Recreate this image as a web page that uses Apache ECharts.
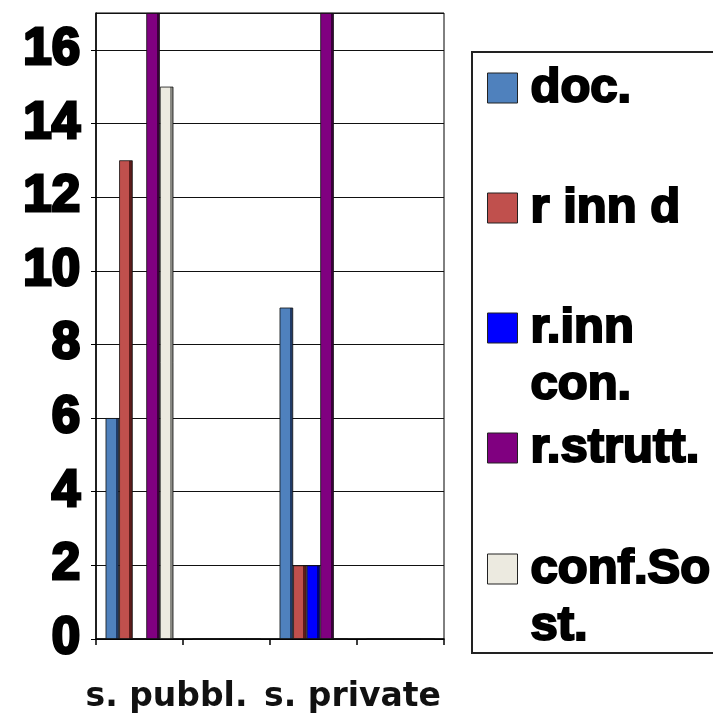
<!DOCTYPE html>
<html>
<head>
<meta charset="utf-8">
<script src="https://cdn.jsdelivr.net/npm/echarts@6/dist/echarts.min.js"></script>
<style>
html,body{margin:0;padding:0;background:#fff;}
#chart{width:713px;height:714px;}
</style>
</head>
<body>
<div id="chart"></div>
<script>
// ---- data ----
const categories = ['s. pubbl.', '', 's. private', ''];
const seriesNames = ['doc.', 'r inn d', 'r.inn con.', 'r.strutt.', 'conf.Sost.'];
const docValues      = [6, 0, 9, 0];
const rInnDValues    = [13, 0, 2, 0];
const rInnConValues  = [0, 0, 2, 0];
const rStruttValues  = [17, 0, 17, 0];
const confSostValues = [15, 0, 0, 0];
const legendLabels = ['doc.', 'r inn d', '\nr.inn\ncon.', 'r.strutt.', '\nconf.So\nst.'];

const faceColors = ['#4f81bd', '#c0504d', '#0000ff', '#800080', '#eceae0'];
const sideColors = ['#1f3a66', '#5c1c1b', '#000080', '#3a003a', '#8a8a84'];

function barColor(i) {
  return new echarts.graphic.LinearGradient(0, 0, 1, 0, [
    {offset: 0, color: faceColors[i]},
    {offset: 0.76, color: faceColors[i]},
    {offset: 0.76, color: sideColors[i]},
    {offset: 1, color: sideColors[i]}
  ]);
}

const allValues = [docValues, rInnDValues, rInnConValues, rStruttValues, confSostValues];

const chart = echarts.init(document.getElementById('chart'), null, {renderer: 'canvas'});

const legendTops = [59.5, 179.5, 242.5, 419.5, 483.5];
const legends = seriesNames.map((n, i) => ({
  data: [n],
  orient: 'vertical',
  left: 487,
  top: legendTops[i],
  padding: 0,
  itemWidth: 30,
  itemHeight: 30,
  selectedMode: false,
  icon: 'rect',
  itemStyle: {color: faceColors[i], borderColor: '#222', borderWidth: 1},
  formatter: () => legendLabels[i],
  textStyle: {
    fontFamily: 'Liberation Sans',
    fontWeight: 'bold',
    fontSize: 49,
    lineHeight: 57,
    color: '#000',
    textBorderColor: '#000',
    textBorderWidth: 2.2,
    padding: [0, 0, 0, 8]
  }
}));

const option = {
  backgroundColor: '#fff',
  animation: false,
  grid: {
    left: 96, right: 269, top: 13, bottom: 73,
    show: true, borderColor: '#000', borderWidth: 1, backgroundColor: 'transparent'
  },
  legend: legends,
  graphic: [{
    type: 'rect',
    shape: {x: 472, y: 52, width: 250, height: 601},
    style: {fill: 'none', stroke: '#222', lineWidth: 2},
    z: 10
  }],
  xAxis: {
    type: 'category',
    data: [
      {value: categories[0], textStyle: {padding: [0, 0, 0, 54]}},
      categories[1],
      {value: categories[2], textStyle: {padding: [0, 0, 0, 78]}},
      categories[3]
    ],
    axisLine: {lineStyle: {color: '#000', width: 1.5}},
    axisTick: {show: true, length: 6, lineStyle: {color: '#000', width: 1.5}},
    axisLabel: {
      interval: 0,
      margin: 42,
      fontFamily: 'DejaVu Sans',
      fontWeight: 'bold',
      fontSize: 33,
      color: '#111'
    },
    splitLine: {show: false}
  },
  yAxis: {
    type: 'value',
    min: 0, max: 17, interval: 2,
    axisLine: {show: true, lineStyle: {color: '#000', width: 1.5}},
    axisTick: {show: true, length: 5, lineStyle: {color: '#000'}},
    axisLabel: {
      showMaxLabel: false,
      margin: 16,
      fontFamily: 'Liberation Sans',
      fontWeight: 'bold',
      fontSize: 51,
      color: '#000',
      textBorderColor: '#000',
      textBorderWidth: 3
    },
    splitLine: {show: true, lineStyle: {color: '#111', width: 1}}
  },
  series: seriesNames.map((n, i) => ({
    name: n,
    type: 'bar',
    data: allValues[i],
    barGap: '0%',
    barCategoryGap: '22%',
    itemStyle: {color: barColor(i), borderColor: '#111', borderWidth: 0.8}
  }))
};
chart.setOption(option);
</script>
</body>
</html>
